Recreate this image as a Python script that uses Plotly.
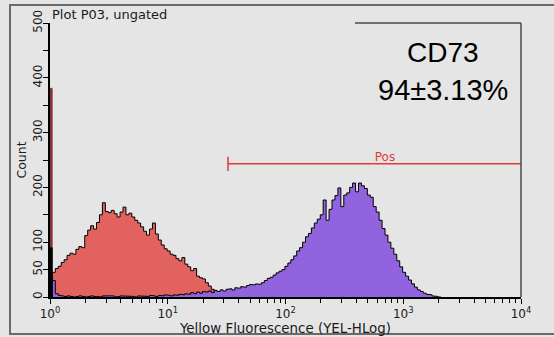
import numpy as np
import plotly.graph_objects as go

# ---------------- data ----------------
# histogram bins on log10(fluorescence)
bin_start_log = 0.02
bin_width_log = 0.025
pileup_width_log = 0.02

red_pileup_count = 381      # events piled up in the first channel (red sample)
purple_pileup_count = 90    # events piled up in the first channel (purple sample)

red_counts = [45, 52, 56, 63, 68, 76, 80, 78, 87, 92,
              90, 112, 122, 130, 124, 136, 150, 172, 156, 154,
              158, 152, 146, 155, 164, 150, 153, 146, 140, 135,
              128, 120, 113, 124, 135, 115, 104, 95, 88, 84,
              78, 76, 70, 66, 72, 60, 55, 48, 52, 38,
              35, 33, 26, 20, 14, 10, 8, 6, 3, 1]

purple_counts = [30, 6, 3, 2, 1, 2, 1, 0, 1, 2,
                 1, 0, 1, 2, 1, 1, 0, 2, 1, 1,
                 2, 0, 1, 2, 1, 1, 2, 1, 0, 2,
                 1, 2, 1, 3, 2, 1, 3, 2, 4, 3,
                 2, 4, 3, 5, 4, 6, 5, 8, 6, 9,
                 7, 10, 9, 11, 8, 12, 10, 13, 11, 14,
                 15, 13, 17, 16, 19, 18, 21, 23, 22, 24,
                 23, 26, 30, 34, 36, 40, 44, 47, 50, 56,
                 62, 68, 75, 84, 90, 100, 110, 116, 126, 135,
                 142, 150, 177, 140, 160, 177, 185, 199, 165, 186,
                 190, 200, 208, 192, 208, 203, 198, 186, 182, 165,
                 155, 140, 125, 113, 100, 89, 78, 66, 55, 45,
                 38, 31, 24, 18, 13, 10, 7, 5, 4, 2,
                 1, 0]

gate_name = "Pos"
gate_start = 32.5     # fluorescence value where the Pos gate begins
gate_end = 10000
gate_level = 243      # height of the gate marker (count)
gate_label_x = 700

x_tick_vals = [1, 10, 100, 1000, 10000]
x_tick_text = ["10<sup>0</sup>", "10<sup>1</sup>", "10<sup>2</sup>", "10<sup>3</sup>", "10<sup>4</sup>"]
y_tick_vals = [0, 50, 100, 150, 200, 250, 300, 350, 400, 450, 500]
y_tick_text = ["0", "50", "100", "", "200", "", "300", "", "400", "", "500"]

marker_name = "CD73"
marker_result = "94±3.13%"
plot_title = "Plot P03, ungated"
x_title = "Yellow Fluorescence (YEL-HLog)"
y_title = "Count"

# ---------------- figure ----------------
W, H = 554, 337
ML, MR, MT, MB = 50, 33, 23, 40
PW, PH = W - ML - MR, H - MT - MB


def px(x):
    return (x - ML) / PW


def py(y):
    return (H - MB - y) / PH


def step_xy(counts, start_log, width_log):
    edges = start_log + width_log * np.arange(len(counts) + 1)
    xs = [10 ** edges[0]]
    ys = [0]
    for i, c in enumerate(counts):
        xs += [10 ** edges[i], 10 ** edges[i + 1]]
        ys += [c, c]
    xs.append(10 ** edges[-1])
    ys.append(0)
    return xs, ys


RED = "#e2625f"
RED_DARK = "#8c2f36"
PURPLE = "#9263df"
BG = "#e5e5e5"
TXT = "#1a1a1a"

fig = go.Figure()

# red sample
rx, ry = step_xy([red_pileup_count], 0, pileup_width_log)
fig.add_trace(go.Scatter(x=rx, y=ry, mode="lines", fill="toself", fillcolor=RED_DARK,
                         line=dict(color=RED_DARK, width=0.5), hoverinfo="skip"))
rx, ry = step_xy(red_counts, bin_start_log, bin_width_log)
fig.add_trace(go.Scatter(x=rx, y=ry, mode="lines", fill="tozeroy", fillcolor=RED,
                         line=dict(color="black", width=1), hoverinfo="skip"))
# purple sample
qx, qy = step_xy([purple_pileup_count], 0, pileup_width_log)
fig.add_trace(go.Scatter(x=qx, y=qy, mode="lines", fill="toself", fillcolor="black",
                         line=dict(color="black", width=0.5), hoverinfo="skip"))
qx, qy = step_xy(purple_counts, bin_start_log, bin_width_log)
fig.add_trace(go.Scatter(x=qx, y=qy, mode="lines", fill="tozeroy", fillcolor=PURPLE,
                         line=dict(color="black", width=1), hoverinfo="skip"))

# gate
GATE = "#e03a3a"
fig.add_trace(go.Scatter(x=[gate_start, gate_end], y=[gate_level, gate_level], mode="lines",
                         line=dict(color=GATE, width=1.5), cliponaxis=False, hoverinfo="skip"))
fig.add_trace(go.Scatter(x=[gate_start, gate_start], y=[gate_level - 13, gate_level + 13], mode="lines",
                         line=dict(color=GATE, width=1.5), cliponaxis=False, hoverinfo="skip"))
fig.add_trace(go.Scatter(x=[gate_label_x], y=[gate_level], mode="text", text=[gate_name],
                         textposition="top center",
                         textfont=dict(family="DejaVu Sans", size=12, color=GATE),
                         cliponaxis=False, hoverinfo="skip"))

AXFONT = dict(family="DejaVu Sans", size=12, color=TXT)

fig.update_layout(
    template="none",
    width=W, height=H, autosize=False,
    margin=dict(l=ML, r=MR, t=MT, b=MB, pad=0),
    paper_bgcolor=BG, plot_bgcolor=BG,
    showlegend=False,
    xaxis=dict(type="log", range=[0, 4], showgrid=False, zeroline=False, automargin=False,
               showline=True, linecolor="black", linewidth=2,
               ticks="outside", ticklen=5, tickwidth=1.2, tickcolor="black",
               tickvals=x_tick_vals, ticktext=x_tick_text, tickfont=AXFONT,
               minor=dict(ticks="outside", ticklen=4, tickwidth=1, tickcolor="black",
                          tickvals=[m * 10 ** k for k in range(4) for m in range(2, 10)],
                          showgrid=False),
               title=dict(text=x_title, font=dict(family="DejaVu Sans", size=13.4, color=TXT),
                          standoff=2)),
    yaxis=dict(range=[0, 500], showgrid=False, zeroline=False, automargin=False,
               showline=True, linecolor="black", linewidth=2,
               ticks="outside", ticklen=5, tickwidth=1.2, tickcolor="black",
               tickvals=y_tick_vals, ticktext=y_tick_text, tickangle=-90, tickfont=AXFONT,
               ticklabelstandoff=-4,
               title=dict(text=y_title, font=dict(family="DejaVu Sans", size=12.5, color=TXT),
                          standoff=2)),
    shapes=[
        # outer frame
        dict(type="rect", xref="paper", yref="paper", x0=px(10), x1=px(570), y0=py(334), y1=py(5),
             line=dict(color="#6a6a6a", width=2), layer="below"),
        # plot frame right and top
        dict(type="line", xref="paper", yref="paper", x0=1, x1=1, y0=0, y1=1,
             line=dict(color="#4a4a4a", width=1.5)),
        dict(type="line", xref="paper", yref="paper", x0=px(355), x1=1, y0=1, y1=1,
             line=dict(color="#4a4a4a", width=1.5)),
    ],
    annotations=[
        dict(text=plot_title, xref="paper", yref="paper", x=0, y=py(14), xanchor="left", yanchor="middle",
             showarrow=False, font=dict(family="DejaVu Sans", size=13, color=TXT)),
        dict(text=marker_name, xref="paper", yref="paper", x=px(443), y=py(52), xanchor="center",
             yanchor="middle", showarrow=False, font=dict(family="Liberation Sans", size=28, color="black")),
        dict(text=marker_result, xref="paper", yref="paper", x=px(443), y=py(90), xanchor="center",
             yanchor="middle", showarrow=False, font=dict(family="Liberation Sans", size=29, color="black")),
    ],
)

fig.write_html("out.html")
